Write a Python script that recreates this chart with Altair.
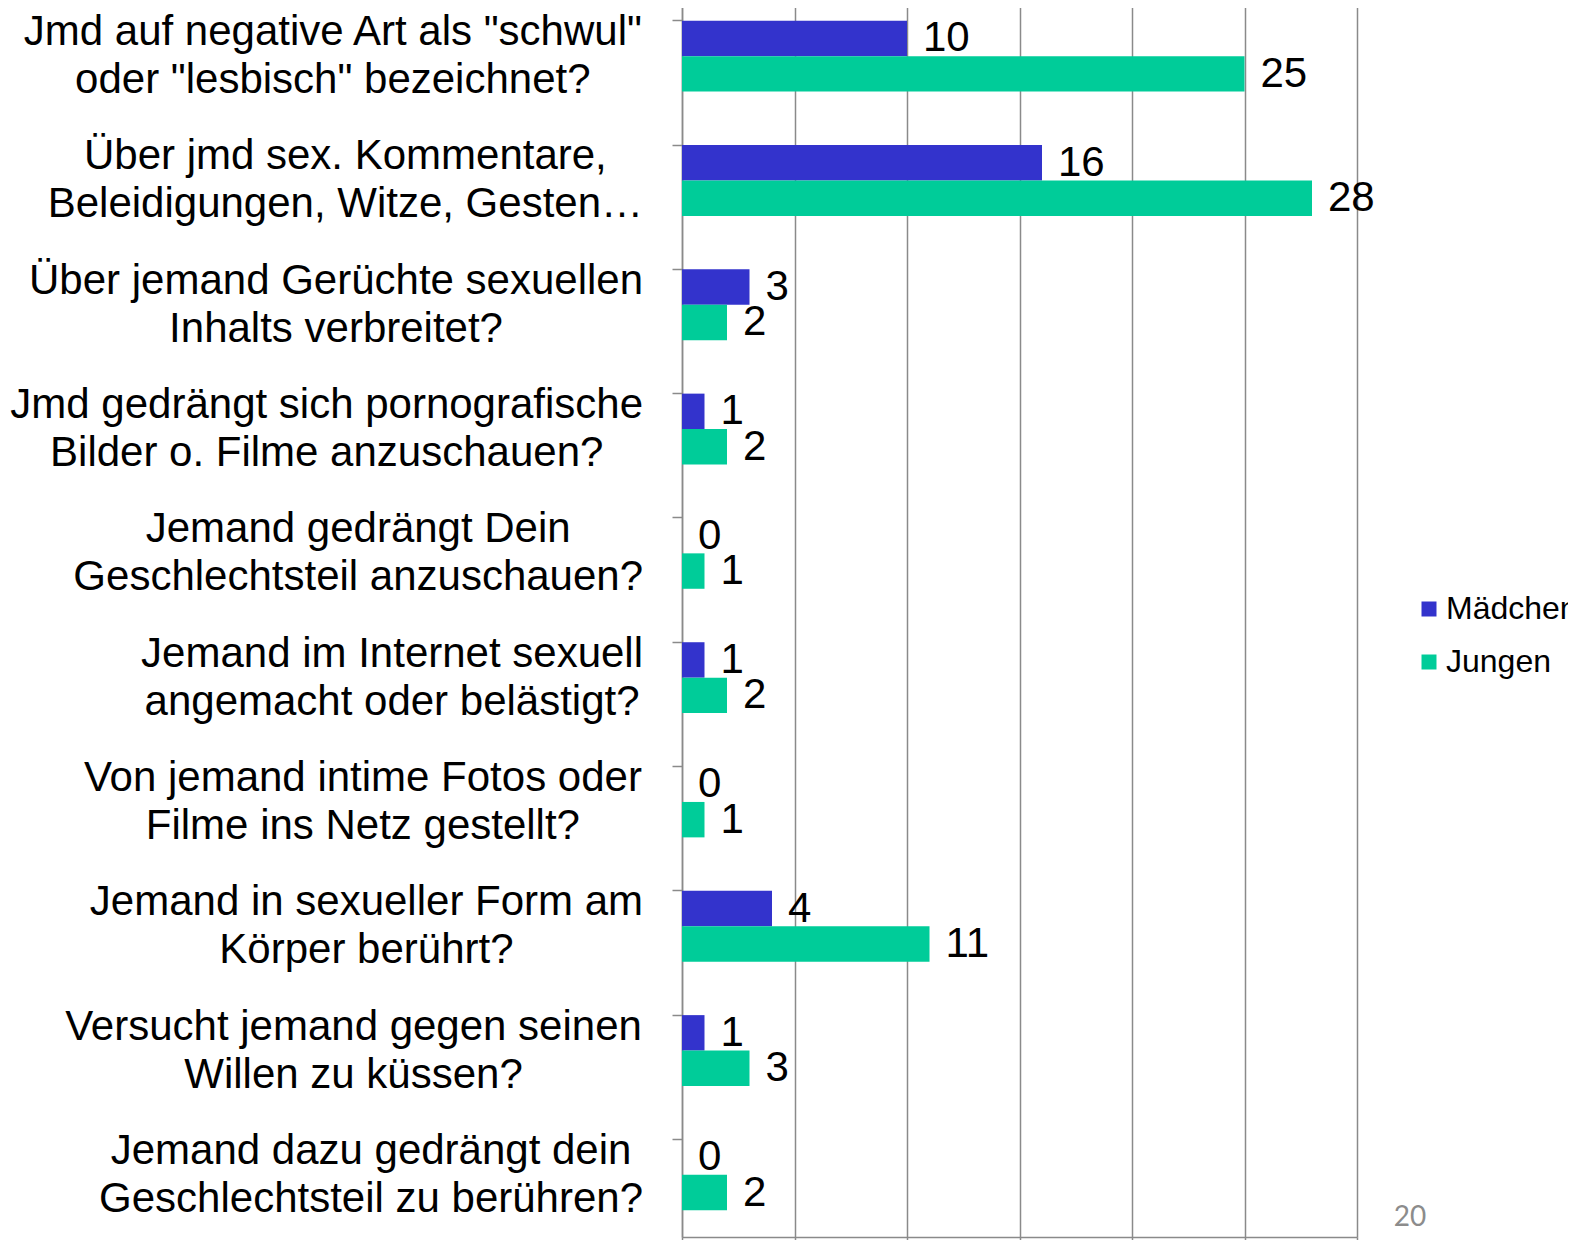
import altair as alt
import pandas as pd

categories = [
    "Jmd auf negative Art als \"schwul\"|oder \"lesbisch\" bezeichnet?",
    "Über jmd sex. Kommentare,|Beleidigungen, Witze, Gesten…",
    "Über jemand Gerüchte sexuellen|Inhalts verbreitet?",
    "Jmd gedrängt sich pornografische|Bilder o. Filme anzuschauen?",
    "Jemand gedrängt Dein|Geschlechtsteil anzuschauen?",
    "Jemand im Internet sexuell|angemacht oder belästigt?",
    "Von jemand intime Fotos oder|Filme ins Netz gestellt?",
    "Jemand in sexueller Form am|Körper berührt?",
    "Versucht jemand gegen seinen|Willen zu küssen?",
    "Jemand dazu gedrängt dein|Geschlechtsteil zu berühren?",
]
series_names = ["Mädchen", "Jungen"]
maedchen = [10, 16, 3, 1, 0, 1, 0, 4, 1, 0]
jungen = [25, 28, 2, 2, 1, 2, 1, 11, 3, 2]
x_ticks = [0, 5, 10, 15, 20, 25, 30]
page_number = "20"

colors = ["#3333CC", "#00CC99"]
GRAY = "#8a8a8a"
FONT = "Liberation Sans"
LABEL_SIZE = 42

# Arial / Liberation Sans advance widths (1/1000 em) for centring multi-line labels
W = {" ": 278, "!": 278, '"': 355, ",": 278, ".": 278, "?": 556, "…": 1000,
     "A": 667, "B": 667, "F": 611, "G": 778, "I": 278, "J": 500, "K": 667, "L": 556,
     "M": 833, "N": 722, "V": 667, "W": 944, "H": 722, "D": 722, "E": 667, "C": 722,
     "S": 667, "P": 667, "R": 722, "T": 611, "U": 722, "Ü": 722, "Z": 611,
     "a": 556, "b": 556, "c": 500, "d": 556, "e": 556, "f": 278, "g": 556, "h": 556,
     "i": 222, "j": 222, "k": 500, "l": 222, "m": 833, "n": 556, "o": 556, "p": 556,
     "q": 556, "r": 333, "s": 500, "t": 278, "u": 556, "v": 500, "w": 722, "x": 500,
     "y": 500, "z": 500, "ä": 556, "ö": 556, "ü": 556, "ß": 611}


def text_width(s):
    return sum(W.get(ch, 556) for ch in s) * LABEL_SIZE / 1000.0


rows = []
for c, m, j in zip(categories, maedchen, jungen):
    rows.append({"cat": c, "series": "Mädchen", "value": m})
    rows.append({"cat": c, "series": "Jungen", "value": j})
df = pd.DataFrame(rows)

lab_rows = []
for c in categories:
    maxw = max(text_width(line) for line in c.split("|"))
    lab_rows.append({"cat": c, "cx": -39 - maxw / 2.0})
lab_df = pd.DataFrame(lab_rows)

y_enc = alt.Y(
    "cat:N", sort=categories, title=None,
    scale=alt.Scale(paddingInner=0.43, paddingOuter=0.215),
    axis=alt.Axis(labels=False, bandPosition=0, tickSize=10, tickColor=GRAY,
                  tickWidth=1.5, domainColor=GRAY, domainWidth=1.5, grid=False, title=None),
)
yoff = alt.YOffset("series:N", sort=series_names,
                   scale=alt.Scale(paddingInner=0, paddingOuter=0))

bars = alt.Chart(df).mark_bar().encode(
    y=y_enc,
    yOffset=yoff,
    x=alt.X("value:Q", scale=alt.Scale(domain=[0, 30], nice=False), title=None,
            axis=alt.Axis(values=x_ticks, grid=True, gridColor=GRAY, gridWidth=1.5,
                          labels=False, tickSize=8, tickColor=GRAY, tickWidth=1.5,
                          domainColor=GRAY, domainWidth=1.5, title=None)),
    color=alt.Color("series:N", sort=series_names,
                    scale=alt.Scale(domain=series_names, range=colors),
                    legend=alt.Legend(title=None, orient="none", legendX=731, legendY=599,
                                      symbolType="square", symbolSize=225,
                                      symbolStrokeWidth=0, labelFontSize=32,
                                      labelFont=FONT, labelColor="#000000",
                                      labelOffset=1, rowPadding=21, padding=0,
                                      labelLimit=0)),
)

vals = alt.Chart(df).mark_text(align="left", baseline="middle", dx=16,
                               fontSize=LABEL_SIZE, font=FONT, color="#000000").encode(
    y=y_enc,
    yOffset=yoff,
    x=alt.X("value:Q"),
    text=alt.Text("value:Q"),
)

cat_labels = alt.Chart(lab_df).mark_text(align="center", baseline="middle", lineBreak="|",
                                         lineHeight=48, dy=-24, fontSize=LABEL_SIZE, font=FONT,
                                         color="#000000").encode(
    y=y_enc,
    x=alt.X("cx:Q", scale=None, axis=None),
    text=alt.Text("cat:N"),
)

page = alt.Chart(pd.DataFrame({"t": [page_number]})).mark_text(
    align="center", baseline="middle", fontSize=28, font="Lato", color="#8c8c8c"
).encode(x=alt.value(728), y=alt.value(1224), text="t:N")

chart = alt.layer(bars, vals, cat_labels, page).properties(
    width=675, height=1243,
    autosize=alt.AutoSizeParams(type="none"),
    padding={"left": 674, "top": -14, "right": 211, "bottom": 3},
).configure_view(stroke=None)

chart.save("out.html", embed_options={"renderer": "svg", "actions": False})
